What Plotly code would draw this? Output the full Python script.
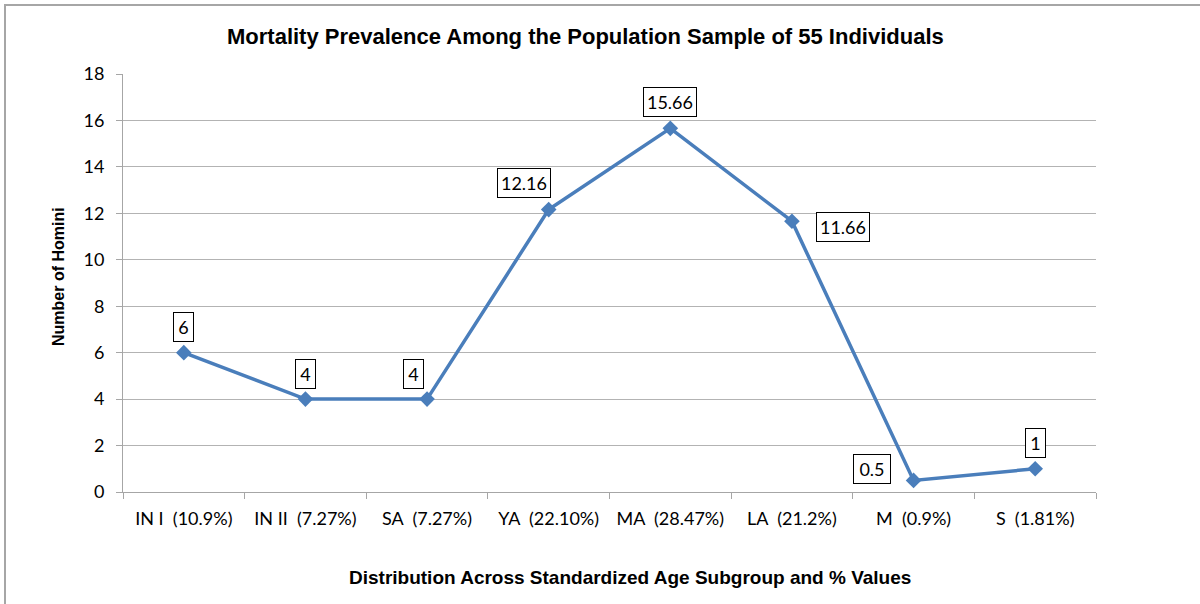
import plotly.graph_objects as go

# Age subgroups with their share of the 55-individual sample
categories = [
    "IN I  (10.9%)",
    "IN II  (7.27%)",
    "SA  (7.27%)",
    "YA  (22.10%)",
    "MA  (28.47%)",
    "LA  (21.2%)",
    "M  (0.9%)",
    "S  (1.81%)",
]
hominin_counts = [6, 4, 4, 12.16, 15.66, 11.66, 0.5, 1]
value_labels = ["6", "4", "4", "12.16", "15.66", "11.66", "0.5", "1"]

# Label offsets (pixels) relative to each marker
label_dx = [0, 0, -14, -25, 0, 51, -42, 0]
label_dy = [26, 25, 25, 27, 26, -6, 11, 26]

y_ticks = list(range(0, 20, 2))

W, H = 1200, 604
L, R, T, B = 123, 104, 74, 112
plot_w = W - L - R
plot_h = H - T - B

BODY_FONT = "Lato"
HEAD_FONT = "Liberation Sans"

def px_x(x):
    return (x - L) / plot_w

def px_y(y):
    return (H - B - y) / plot_h

# Non-breaking spaces keep the double gap inside each category name
cat_names = [c.replace(" ", "\u00a0") for c in categories]

fig = go.Figure()
fig.add_trace(
    go.Scatter(
        x=cat_names,
        y=hominin_counts,
        mode="lines+markers",
        line=dict(color="#4a7ebb", width=3.5),
        marker=dict(symbol="diamond", size=12, color="#4a7ebb"),
        showlegend=False,
        hoverinfo="skip",
    )
)

annotations = []
for i, (c, v, t) in enumerate(zip(cat_names, hominin_counts, value_labels)):
    annotations.append(
        dict(
            x=c, y=v, xref="x", yref="y",
            text=t, showarrow=False,
            xshift=label_dx[i], yshift=label_dy[i],
            width=round(8.3 * len(t) + 5),
            font=dict(family=BODY_FONT, size=18, color="#000000"),
            bgcolor="#ffffff", bordercolor="#000000", borderwidth=1, borderpad=3,
        )
    )

annotations += [
    dict(
        text="<b>Mortality Prevalence Among the Population Sample of 55 Individuals</b>",
        x=px_x(585), y=px_y(37), xref="paper", yref="paper",
        xanchor="center", yanchor="middle", showarrow=False,
        font=dict(family=HEAD_FONT, size=22, color="#000000"),
    ),
    dict(
        text="<b>Distribution Across Standardized Age Subgroup and % Values</b>",
        x=px_x(630), y=px_y(577), xref="paper", yref="paper",
        xanchor="center", yanchor="middle", showarrow=False,
        font=dict(family=HEAD_FONT, size=19, color="#000000"),
    ),
    dict(
        text="<b>Number of Homini</b>",
        x=px_x(58), y=px_y(277), xref="paper", yref="paper",
        xanchor="center", yanchor="middle", showarrow=False, textangle=-90,
        font=dict(family=HEAD_FONT, size=16, color="#000000"),
    ),
]

# Outer chart frame (left and top edges only inside the view)
frame = dict(
    type="path", xref="paper", yref="paper",
    path=f"M {px_x(5)},{px_y(640)} L {px_x(5)},{px_y(5)} L {px_x(1240)},{px_y(5)}",
    line=dict(color="#a6a6a6", width=2),
)

fig.update_layout(
    width=W, height=H,
    margin=dict(l=L, r=R, t=T, b=B),
    paper_bgcolor="#ffffff",
    plot_bgcolor="#ffffff",
    annotations=annotations,
    shapes=[frame],
    xaxis=dict(
        type="category",
        range=[-0.5, len(categories) - 0.5],
        tickson="boundaries",
        ticks="outside", ticklen=6, tickcolor="#a6a6a6", tickwidth=1,
        ticklabelstandoff=10,
        showgrid=False, zeroline=False,
        showline=True, linecolor="#a6a6a6", linewidth=1,
        tickfont=dict(family=BODY_FONT, size=18, color="#000000"),
        fixedrange=True,
    ),
    yaxis=dict(
        range=[0, 18],
        tickmode="array",
        tickvals=y_ticks,
        ticks="outside", ticklen=6, tickcolor="#a6a6a6", tickwidth=1,
        ticklabelstandoff=8,
        showgrid=True, gridcolor="#b3b3b3", gridwidth=1,
        zeroline=False,
        showline=True, linecolor="#a6a6a6", linewidth=1,
        tickfont=dict(family=BODY_FONT, size=18, color="#000000"),
        fixedrange=True,
    ),
)

fig.write_html("out.html")
